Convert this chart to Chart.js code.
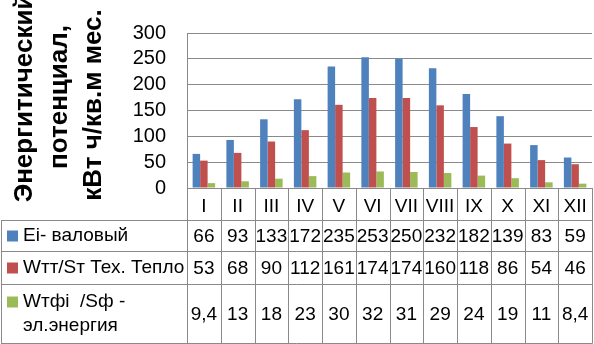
<!DOCTYPE html>
<html>
<head>
<meta charset="utf-8">
<script src="https://cdn.jsdelivr.net/npm/chart.js@4.4.1/dist/chart.umd.min.js"></script>
<style>
    html, body { margin: 0; padding: 0; background: #fff; }
    #grafico { display: block; }
</style>
</head>
<body>
<canvas id="grafico" width="594" height="344"></canvas>
<script>
// dados do gráfico
const meses = ['I', 'II', 'III', 'IV', 'V', 'VI', 'VII', 'VIII', 'IX', 'X', 'XI', 'XII'];
const valovoy = [66, 93, 133, 172, 235, 253, 250, 232, 182, 139, 83, 59];
const teplo = [53, 68, 90, 112, 161, 174, 174, 160, 118, 86, 54, 46];
const elektro = [9.4, 13, 18, 23, 30, 32, 31, 29, 24, 19, 11, 8.4];
const nomesSeries = [['Ei- валовый'], ['Wтт/Sт Тех. Тепло'], ['Wтфi  /Sф -', 'эл.энергия']];
const tituloY = ['Энергитический', 'потенциал,', 'кВт ч/кв.м мес.'];

const cores = ['#4F81BD', '#C0504D', '#9BBB59'];
const corLinha = '#8a8a8a';
const fonte = '"Liberation Sans", Arial, sans-serif';

function formatar(v) {
    return String(v).replace('.', ',');
}

// título do eixo Y em três linhas (o Chart.js comprime o texto ao tamanho do eixo)
const tituloEixo = {
    id: 'tituloEixo',
    afterDraw(chart) {
        const { ctx } = chart;
        const bases = [32, 67, 101];
        const centros = [98, 97, 105];
        ctx.save();
        ctx.fillStyle = '#000';
        ctx.font = 'bold 26px ' + fonte;
        ctx.textAlign = 'center';
        ctx.textBaseline = 'alphabetic';
        tituloY.forEach((t, i) => {
            ctx.save();
            ctx.translate(bases[i], centros[i]);
            ctx.rotate(-Math.PI / 2);
            ctx.fillText(t, 0, 0);
            ctx.restore();
        });
        ctx.restore();
    }
};

// tabela de dados abaixo do eixo X (estilo Excel)
const tabelaDados = {
    id: 'tabelaDados',
    afterDraw(chart) {
        const { ctx, chartArea } = chart;
        const x = chart.scales.x;
        const passo = x.getPixelForValue(1) - x.getPixelForValue(0);
        const topo = chartArea.bottom;
        const linhas = [220, 251, 284, 343];
        const esq = 1;
        const dir = Math.round(x.getPixelForValue(meses.length - 1) + passo / 2) + 0.5;

        ctx.save();
        ctx.strokeStyle = corLinha;
        ctx.lineWidth = 1;
        ctx.beginPath();
        for (let i = 0; i <= meses.length; i++) {
            const xi = Math.round(x.getPixelForValue(i) - passo / 2) + 0.5;
            ctx.moveTo(xi, topo);
            ctx.lineTo(xi, linhas[3] + 0.5);
        }
        ctx.moveTo(esq + 0.5, linhas[0]);
        ctx.lineTo(esq + 0.5, linhas[3] + 0.5);
        linhas.forEach(l => {
            ctx.moveTo(esq, l + 0.5);
            ctx.lineTo(dir, l + 0.5);
        });
        ctx.stroke();

        const series = chart.data.datasets;
        ctx.textBaseline = 'middle';
        series.forEach((ds, s) => {
            const y0 = linhas[s], y1 = linhas[s + 1];
            const meio = (y0 + y1) / 2;
            // legenda
            const nome = nomesSeries[s];
            const alturaLinha = 24;
            const primeira = meio - (nome.length - 1) * alturaLinha / 2;
            ctx.fillStyle = ds.backgroundColor;
            ctx.fillRect(7, primeira - 5, 11, 11);
            ctx.fillStyle = '#000';
            ctx.font = '19px ' + fonte;
            ctx.textAlign = 'left';
            nome.forEach((t, k) => {
                ctx.fillText(t, 23, primeira + k * alturaLinha);
            });
            // valores
            ctx.textAlign = 'center';
            ds.data.forEach((v, i) => {
                ctx.fillText(formatar(v), x.getPixelForValue(i), meio + 1);
            });
        });
        ctx.restore();
    }
};

const ctx = document.getElementById('grafico').getContext('2d');
const grafico = new Chart(ctx, {
    type: 'bar',
    data: {
        labels: meses,
        datasets: [
            { label: nomesSeries[0].join(' '), data: valovoy, backgroundColor: cores[0] },
            { label: nomesSeries[1].join(' '), data: teplo, backgroundColor: cores[1] },
            { label: nomesSeries[2].join(' '), data: elektro, backgroundColor: cores[2] }
        ]
    },
    options: {
        responsive: false,
        animation: false,
        devicePixelRatio: 1,
        datasets: {
            bar: { categoryPercentage: 0.667, barPercentage: 1.0 }
        },
        layout: { padding: { top: 15, right: 2, left: 0, bottom: 0 } },
        plugins: {
            legend: { display: false },
            tooltip: { enabled: false }
        },
        scales: {
            x: {
                grid: { display: false, drawTicks: false },
                border: { display: false },
                ticks: {
                    color: '#000',
                    padding: 7,
                    maxRotation: 0,
                    autoSkip: false,
                    font: { family: fonte, size: 19 }
                },
                afterFit(scale) { scale.height = 156; }
            },
            y: {
                min: 0,
                max: 300,
                ticks: {
                    stepSize: 50,
                    autoSkip: false,
                    color: '#000',
                    padding: 21,
                    font: { family: fonte, size: 20 }
                },
                grid: { color: corLinha, drawTicks: false },
                border: { display: true, color: corLinha },
                afterFit(scale) { scale.width = 187; }
            }
        }
    },
    plugins: [tituloEixo, tabelaDados]
});
</script>
</body>
</html>
